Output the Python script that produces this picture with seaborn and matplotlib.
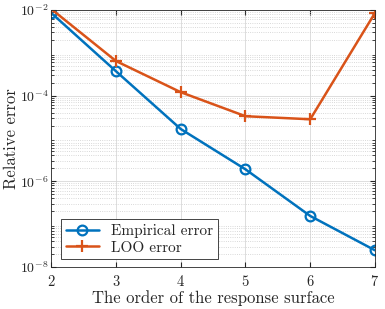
import matplotlib
matplotlib.use('Agg')
import matplotlib.pyplot as plt
import seaborn as sns

orders = [2, 3, 4, 5, 6, 7]
empirical_error = [8.5e-3, 3.7e-4, 1.66e-5, 1.9e-6, 1.55e-7, 2.45e-8]
loo_error = [1.05e-2, 6.4e-4, 1.2e-4, 3.3e-5, 2.8e-5, 8.5e-3]

sns.set_style('ticks')
plt.rcParams['font.family'] = ['cmr10', 'DejaVu Serif']
plt.rcParams['mathtext.fontset'] = 'cm'
plt.rcParams['axes.formatter.use_mathtext'] = True

fig = plt.figure(figsize=(3.85, 3.09), dpi=100)
ax = fig.add_axes([0.133, 0.136, 0.841, 0.832])

sns.lineplot(x=orders, y=empirical_error, color='#0072BD', marker='o',
             linewidth=1.8, markersize=7, markeredgewidth=1.6,
             markerfacecolor='none', markeredgecolor='#0072BD',
             label='Empirical error', ax=ax)
sns.lineplot(x=orders, y=loo_error, color='#D95319', marker='+',
             linewidth=1.8, markersize=8, markeredgewidth=1.6,
             markeredgecolor='#D95319', label='LOO error', ax=ax)

ax.set_yscale('log')
ax.set_xlim(2, 7)
ax.set_ylim(1e-8, 1e-2)
ax.set_xticks(orders)
ax.set_yticks([1e-8, 1e-6, 1e-4, 1e-2])
ax.grid(True, which='major', color='#d8d8d8', linewidth=0.6)
ax.grid(True, which='minor', color='#cccccc', linewidth=0.6, linestyle=':')
ax.tick_params(which='both', direction='in', top=True, right=True, labelsize=10)
ax.tick_params(axis='x', pad=5, labelsize=10.5)
ax.tick_params(axis='y', pad=2)
for s in ax.spines.values():
    s.set_color('#262626')
    s.set_linewidth(0.6)

ax.set_xlabel('The order of the response surface', fontsize=12, labelpad=1)
ax.set_ylabel('Relative error', fontsize=12)
ax.yaxis.set_label_coords(-0.1, 0.5)

leg = ax.legend(loc='lower left', bbox_to_anchor=(0.03, 0.03), fontsize=11,
                fancybox=False, framealpha=1, edgecolor='#262626',
                borderpad=0.3, handlelength=2.2, labelspacing=0.2,
                borderaxespad=0.0)
leg.get_frame().set_linewidth(0.6)

fig.savefig('out.png', dpi=100)
